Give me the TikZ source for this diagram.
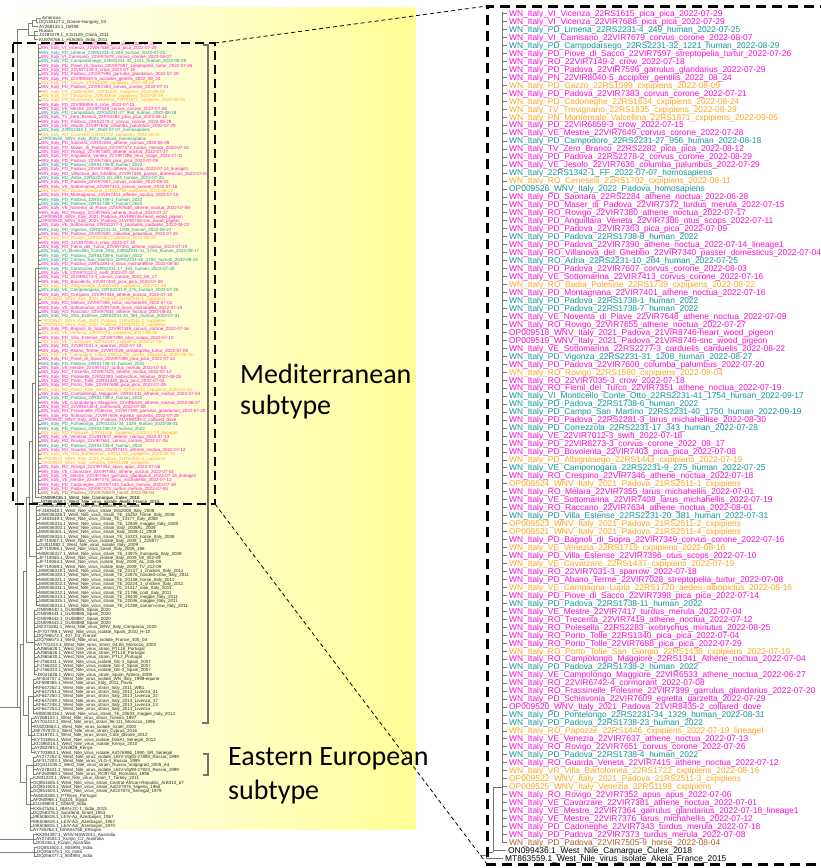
\documentclass[tikz,border=0pt]{standalone}
\usepackage{fontspec}
\setmainfont{Liberation Sans}
\newfontfamily\calfont{Carlito}
\definecolor{cmag}{RGB}{250,10,210}
\definecolor{cteal}{RGB}{20,150,150}
\definecolor{corg}{RGB}{255,165,30}
\definecolor{cbrn}{RGB}{180,90,40}
\definecolor{ybg}{RGB}{255,255,150}
\tikzset{
  rlab/.style={anchor=base west, inner sep=0pt, font=\fontsize{8.4}{8.4}\selectfont},
  llab/.style={anchor=base west, inner sep=0pt, font=\fontsize{4.5}{4.5}\selectfont},
  tr/.style={draw=black!55, line width=0.6pt},
  ltr/.style={draw=black!50, line width=0.45pt},
  bigdash/.style={line width=2.6pt, dash pattern=on 9pt off 5pt},
  thindash/.style={line width=0.8pt, dash pattern=on 4pt off 3pt},
  brack/.style={draw=black!55, line width=1.1pt},
  subt/.style={anchor=base west, inner sep=0pt, font=\calfont\fontsize{28}{28}\selectfont}
}
\newcounter{rc}\newcounter{lc}
\newcommand\medleaf[3][509]{%
  \stepcounter{rc}\stepcounter{lc}%
  \node[rlab,text=#2] (r\arabic{rc}) at (#1,{16.4+7.97*(\arabic{rc}-1)}) {#3};%
  \node[llab,text=#2] (l\arabic{lc}) at (41,{19.6+4.32*(\arabic{lc}-1)}) {#3};}
\newcommand\othleaf[2]{%
  \stepcounter{lc}%
  \node[llab,text=black!85] (l\arabic{lc}) at (#1,{19.6+4.32*(\arabic{lc}-1)}) {#2};}
\newcommand\mM[1]{\medleaf{cmag}{#1}}
\newcommand\mT[1]{\medleaf{cteal}{#1}}
\newcommand\mO[1]{\medleaf{corg}{#1}}
\newcommand\trV[3]{\draw[ltr] (#1,{18+4.32*(#2-1)}) -- (#1,{18+4.32*(#3-1)});}
\newcommand\trH[3]{\draw[ltr] (#1,{18+4.32*(#3-1)}) -- (#2,{18+4.32*(#3-1)});}
\begin{document}
\catcode`\_=12
\begin{tikzpicture}[x=1pt,y=-1pt]
\useasboundingbox (0,0) rectangle (821,868);
\fill[white] (0,0) rectangle (821,868);
\shade[left color=white, right color=ybg] (0,7) rectangle (416,829);

% ---------- left tree: top group ----------
\othleaf{42}{Americas}
\othleaf{39}{DQ118127.1_Goose-Hungary_03}
\othleaf{39}{AY268133.1_ISR98}
\othleaf{39}{Russia}
\othleaf{39}{JX483279.1_XJ11129_China_2011}
\othleaf{39}{KU978766.1_HU6365_India_2011}

% ---------- Mediterranean clade (both panels) ----------
\mM{WN_Italy_VI_Vicenza_22RS1615_pica_pica_2022-07-29}
\mM{WN_Italy_VI_Vicenza_22VIR7688_pica_pica_2022-07-29}
\mT{WN_Italy_PD_Limena_22RS2231-4_249_human_2022-07-25}
\mM{WN_Italy_VI_Camisano_22VIR7679_corvus_corone_2022-08-07}
\mT{WN_Italy_PD_Campodarsego_22RS2231-32_1221_human_2022-08-29}
\mM{WN_Italy_PD_Piove_di_Sacco_22VIR7597_streptopelia_turtur_2022-07-26}
\mM{WN_Italy_RO_22VIR7149-2_crow_2022-07-18}
\mM{WN_Italy_PD_Padova_22VIR7596_garrulus_glandarius_2022-07-29}
\mM{WN_Italy_PN_22VIR8040-5_accipiter_gentilis_2022_08_24}
\mO{WN_Italy_PD_Gazzo_22RS1599_cxpipiens_2022-08-09}
\mM{WN_Italy_PD_Padova_22VIR7383_corvus_corone_2022-07-21}
\mO{WN_Italy_PD_Cadoneghe_22RS1634_cxpipiens_2022-08-24}
\mO{WN_Italy_TV_Trevignano_22RS1835_cxpipiens_2022-08-29}
\mO{WN_Italy_PN_Montereale_Valcellina_22RS1871_cxpipiens_2022-09-05}
\mM{WN_Italy_PD_22VIR6859-3_crow_2022-07-15}
\mM{WN_Italy_VE_Mestre_22VIR7649_corvus_corone_2022-07-28}
\mT{WN_Italy_PD_Campodoro_22RS2231-27_956_human_2022-08-18}
\mM{WN_Italy_TV_Zero_Branco_22RS2282_pica_pica_2022-08-12}
\mM{WN_Italy_PD_Padova_22RS2278-2_corvus_corone_2022-08-29}
\mM{WN_Italy_VE_Jesolo_22VIR7636_columba_palumbus_2022-07-29}
\mT{WN_Italy_22RS1342-1_FF_2022-07-07_homosapiens}
\mO{WN_Italy_RO_Ceneselli_22RS1702_cxpipiens_2022-08-11}
\mT{OP009526_WNV_Italy_2022_Padova_homosapiens}
\mM{WN_Italy_PD_Saonara_22RS2284_athene_noctua_2022-06-28}
\mM{WN_Italy_PD_Maser_di_Padova_22VIR7372_turdus_merula_2022-07-15}
\mM{WN_Italy_RO_Rovigo_22VIR7380_athene_noctua_2022-07-17}
\mM{WN_Italy_PD_Anguillara_Veneta_22VIR7386_otus_scops_2022-07-11}
\mM{WN_Italy_PD_Padova_22VIR7363_pica_pica_2022-07-09}
\mT{WN_Italy_PD_Padova_22RS1738-8_human_2022}
\mM{WN_Italy_PD_Padova_22VIR7390_athene_noctua_2022-07-14_lineage1}
\mM{WN_Italy_RO_Villanova_del_Ghebbo_22VIR7340_passer_domesticus_2022-07-04}
\mT{WN_Italy_RO_Adria_22RS2231-10_284_human_2022-07-25}
\mM{WN_Italy_PD_Padova_22VIR7607_corvus_corone_2022-08-03}
\mM{WN_Italy_VE_Sottomarina_22VIR7413_corvus_corone_2022-07-16}
\mO{WN_Italy_RO_Badia_Polesine_22RS1739_cxpipiens_2022-08-22}
\mM{WN_Italy_PD_Montagnana_22VIR7401_athene_noctua_2022-07-16}
\mT{WN_Italy_PD_Padova_22RS1738-1_human_2022}
\mT{WN_Italy_PD_Padova_22RS1738-7_human_2022}
\mM{WN_Italy_VE_Noventa_di_Piave_22VIR7648_athene_noctua_2022-07-09}
\mM{WN_Italy_RO_Rovigo_22VIR7655_athene_noctua_2022-07-27}
\mM{OP009518_WNV_Italy_2021_Padova_21VIR8746-heart_wood_pigeon}
\mM{OP009519_WNV_Italy_2021_Padova_21VIR8746-snc_wood_pigeon}
\mM{WN_Italy_VE_Sottomarina_22RS2277-3_carduelis_carduelis_2022-08-22}
\mT{WN_Italy_PD_Vigonza_22RS2231-31_1208_human_2022-08-27}
\mM{WN_Italy_PD_Padova_22VIR7600_columba_palumbus_2022-07-20}
\mO{WN_Italy_RO_Rovigo_22RS1580_cxpipiens_2022-08-04}
\mM{WN_Italy_RO_22VIR7035-3_crow_2022-07-18}
\mM{WN_Italy_RO_Fienil_del_Turco_22VIR7351_athene_noctua_2022-07-19}
\mT{WN_Italy_VI_Monticello_Conte_Otto_22RS2231-41_1754_human_2022-09-17}
\mT{WN_Italy_PD_Padova_22RS1738-6_human_2022}
\mT{WN_Italy_PD_Campo_San_Martino_22RS2231-40_1750_human_2022-09-19}
\mM{WN_Italy_PD_Padova_22RS2281-3_larus_michahellise_2022-08-30}
\mT{WN_Italy_PD_Correzzola_22RS2231-17_343_human_2022-07-28}
\mM{WN_Italy_VE_22VIR7012-3_swift_2022-07-18}
\mM{WN_Italy_PD_22VIR8273-3_corvus_corone_2022_08_17}
\mM{WN_Italy_PD_Bovolenta_22VIR7403_pica_pica_2022-07-08}
\mO{WN_Italy_PD_Albignasego_22RS1443_cxpipiens_2022-07-19}
\mT{WN_Italy_VE_Camponogara_22RS2231-9_275_human_2022-07-25}
\mM{WN_Italy_RO_Crespino_22VIR7346_athene_noctua_2022-07-18}
\mO{OP009524_WNV_Italy_2021_Padova_21RS2511-1_cxpipiens}
\mM{WN_Italy_RO_Melara_22VIR7355_larus_michahellis_2022-07-01}
\mM{WN_Italy_VE_Sottomarina_22VIR7408_larus_michahellis_2022-07-19}
\mM{WN_Italy_RO_Raccano_22VIR7634_athene_noctua_2022-08-01}
\mT{WN_Italy_PD_Villa_Estense_22RS2231-20_381_human_2022-07-31}
\mO{OP009523_WNV_Italy_2021_Padova_21RS2511-2_cxpipiens}
\mO{OP009521_WNV_Italy_2021_Padova_21RS2511-4_cxpipiens}
\mM{WN_Italy_PD_Bagnoli_di_Sopra_22VIR7349_corvus_corone_2022-07-16}
\mO{WN_Italy_VE_Venezia_22RS1719_cxpipiens_2022-08-16}
\mM{WN_Italy_PD_Villa_Estense_22VIR7396_otus_scops_2022-07-10}
\mO{WN_Italy_VE_Cavarzare_22RS1437_cxpipiens_2022-07-19}
\mM{WN_Italy_RO_22VIR7031-3_sparrow_2022-07-18}
\mM{WN_Italy_PD_Abano_Terme_22VIR7028_streptopelia_turtur_2022-07-08}
\mO{WN_Italy_VE_Campagna_Lupia_22RS1720_aedes_albopictus_2022-08-16}
\mM{WN_Italy_PD_Piove_di_Sacco_22VIR7398_pica_pica_2022-07-14}
\mT{WN_Italy_PD_Padova_22RS1738-11_human_2022}
\mM{WN_Italy_VE_Mestre_22VIR7417_turdus_merula_2022-07-04}
\mM{WN_Italy_RO_Trecenta_22VIR7419_athene_noctua_2022-07-12}
\mM{WN_Italy_RO_Polesella_22RS2283_ixobrychus_minutus_2022-08-25}
\mM{WN_Italy_RO_Porto_Tolle_22RS1340_pica_pica_2022-07-04}
\mM{WN_Italy_RO_Porto_Tolle_22VIR7688_pica_pica_2022-07-29}
\mO{WN_Italy_RO_Porto_Tolle_San_Giorgio_22RS1438_cxpipiens_2022-07-19}
\mM{WN_Italy_RO_Campolongo_Maggiore_22RS1341_Athene_noctua_2022-07-04}
\mT{WN_Italy_PD_Padova_22RS1738-2_human_2022}
\mM{WN_Italy_VE_Campolongo_Maggiore_22VIR6533_athene_noctua_2022-06-27}
\mM{WN_Italy_RO_22VIR6742-4_cormorant_2022-07-08}
\mM{WN_Italy_RO_Frassinelle_Polesine_22VIR7399_garrulus_glandarius_2022-07-20}
\mM{WN_Italy_PD_Schiavonia_22VIR7609_egretta_garzetta_2022-07-29}
\mM{OP009520_WNV_Italy_2021_Padova_21VIR8435-2_collared_dove}
\mT{WN_Italy_PD_Pontelongo_22RS2231-34_1329_human_2022-08-31}
\mT{WN_Italy_PD_Padova_22RS1738-23_human_2022}
\mO{WN_Italy_RO_Papozze_22RS1446_cxpipiens_2022-07-19_lineageI}
\mM{WN_Italy_VE_Venezia_22VIR7637_athene_noctua_2022-07-13}
\mM{WN_Italy_RO_Rovigo_22VIR7651_corvus_corone_2022-07-26}
\mT{WN_Italy_PD_Padova_22RS1738-4_human_2022}
\mM{WN_Italy_RO_Guarda_Veneta_22VIR7415_athene_noctua_2022-07-12}
\mO{WN_Italy_VR_Villa_Bartolomea_22RS1722_cxpipiens_2022-08-16}
\mO{OP009522_WNV_Italy_2021_Padova_21RS2511-3_cxpipiens}
\mO{OP009525_WNV_Italy_Venezia_22RS1198_cxpipiens}
\mM{WN_Italy_RO_Rovigo_22VIR7352_apus_apus_2022-07-06}
\mM{WN_Italy_VE_Cavarzare_22VIR7381_athene_noctua_2022-07-01}
\mM{WN_Italy_VE_Mestre_22VIR7364_garrulus_glandarius_2022-07-18_lineage1}
\mM{WN_Italy_VE_Mestre_22VIR7376_larus_michahellis_2022-07-12}
\mM{WN_Italy_PD_Cadoneghe_22VIR7343_turdus_merula_2022-07-18}
\mM{WN_Italy_PD_Padova_22VIR7373_turdus_merula_2022-07-08}
\medleaf{cbrn}{WN_Italy_PD_Padova_22VIR7505-9_horse_2022-08-04}
\medleaf[508]{black}{ON099436.1_West_Nile_Camargue_Culex_2018}
\medleaf[505]{black}{MT863559.1_West_Nile_virus_isolate_Akela_France_2015}

% ---------- left tree: lower group ----------
\othleaf{39}{MW036303.1_West_Nile_virus_isolate_Italy_2008}
\othleaf{39}{FJ483548.1_West_Nile_virus_strain_ISS2008_Italy_2008}
\othleaf{39}{MW036326.1_West_Nile_virus_strain_TE_15252_horse_Italy_2008}
\othleaf{39}{FJ483549.1_West_Nile_virus_strain_TE_13177_Italy_2008}
\othleaf{39}{MW036315.1_West_Nile_virus_strain_TE_12639_magpie_Italy_2009}
\othleaf{39}{MW036300.1_West_Nile_virus_strain_Italy_2008AL_2009}
\othleaf{39}{MW036301.1_West_Nile_virus_strain_Italy_2008-11_2009}
\othleaf{39}{MW036324.1_West_Nile_virus_strain_TE_15323_horse_Italy_2008}
\othleaf{39}{JF719067.1_West_Nile_virus_isolate_Italy_2009_1_225877}
\othleaf{39}{GU011992.1_West_Nile_virus_isolate_Italy_2009}
\othleaf{39}{JF719066.1_West_Nile_virus_strain_Italy_2009_196}
\othleaf{39}{MW036317.1_West_Nile_virus_strain_TE_13975_mosquito_Italy_2008}
\othleaf{39}{JF719065.1_West_Nile_virus_isolate_Italy_2009_MI_302-09}
\othleaf{39}{JF719064.1_West_Nile_virus_isolate_Italy_2009_AL_245-09}
\othleaf{39}{JF719068.1_West_Nile_virus_isolate_Italy_2009_TV_212-09}
\othleaf{39}{MW036319.1_West_Nile_virus_strain_TE_23137_1_chicken_Italy_2011}
\othleaf{39}{MW036320.1_West_Nile_virus_strain_TE_22876_hooded-crow_Italy_2011}
\othleaf{39}{MW036321.1_West_Nile_virus_strain_TE_20138_horse_Italy_2011}
\othleaf{39}{MW036322.1_West_Nile_virus_strain_TE_20224_1_chicken_Italy_2011}
\othleaf{39}{MW036311.1_West_Nile_virus_strain_TE_21417_rook_Italy_2011}
\othleaf{39}{MW036312.1_West_Nile_virus_strain_TE_21796_coot_Italy_2011}
\othleaf{39}{MW036313.1_West_Nile_virus_strain_TE_19449_magpie_Italy_2011}
\othleaf{39}{MW036325.1_West_Nile_virus_strain_TE_22046_magpie_Italy_2011}
\othleaf{39}{MW036314.1_West_Nile_virus_strain_TE_21288_carrion-crow_Italy_2011}
\othleaf{37}{ON099440.1_GU08885_Spain_2020}
\othleaf{37}{ON099441.1_GU08886_Spain_2020}
\othleaf{37}{ON099442.1_GU08887_Spain_2020}
\othleaf{37}{ON099443.1_GU08888_Spain_2020}
\othleaf{37}{MZ375281.1_West_Nile_virus_WNV_Italy_Campania_2020}
\othleaf{37}{JF707789.1_West_Nile_virus_isolate_Spain_2010_H-12}
\othleaf{37}{DQ786572.1_407_04_France}
\othleaf{37}{DQ786573.1_West_Nile_virus_isolate_France_405_04}
\othleaf{37}{AY701413.1_West_Nile_virus_strain_04.05_Morocco_2003}
\othleaf{37}{AJ965628.1_West_Nile_virus_strain_PTL16_Portugal}
\othleaf{37}{AJ965626.1_West_Nile_virus_strain_PTL18_Portugal}
\othleaf{37}{AJ965630.1_West_Nile_virus_strain_PTL2_Portugal}
\othleaf{37}{FJ766331.1_West_Nile_virus_isolate_GE-1_Spain_2007}
\othleaf{37}{FJ766332.1_West_Nile_virus_isolate_GE-2_Spain_2007}
\othleaf{37}{FJ766333.1_West_Nile_virus_isolate_GE-3_Spain_2007}
\othleaf{37}{JX041628.1_West_Nile_virus_strain_Spain_Arbera_2008}
\othleaf{36}{AF404757.1_West_Nile_virus_isolate_WN_Italy_1998-equine}
\othleaf{36}{KF588365.1_West_Nile_virus_Italy_2011_Pavia}
\othleaf{36}{KF647252.1_West_Nile_virus_strain_Italy_2011_WB1}
\othleaf{36}{KF647251.1_West_Nile_virus_strain_Italy_2013_Livenza_31}
\othleaf{36}{KF647250.1_West_Nile_virus_strain_Italy_2013_Livenza_22}
\othleaf{36}{KF647249.1_West_Nile_virus_strain_Italy_2013_Livenza_37}
\othleaf{36}{KF647248.1_West_Nile_virus_strain_Italy_2013_Livenza_13}
\othleaf{36}{KF647253.1_West_Nile_virus_strain_Italy_2013_Livenza}
\othleaf{36}{MW036316.1_West_Nile_virus_strain_TE_20633_magpie_Italy_2012}
\othleaf{34}{AY268132.1_West_Nile_virus_strain_Tunisia_1997}
\othleaf{34}{AY701412.1_West_Nile_virus_strain_96-111_Morocco_1996}
\othleaf{34}{KM203863.1_West_Nile_virus_isolate_Israel_2000}
\othleaf{34}{MF797870.1_West_Nile_virus_strain_Cyprus_2016}
\othleaf{34}{LC318701.1_West_Nile_virus_strain_Cote_dIvoire_2012}
\othleaf{34}{KY703854.1_West_Nile_virus_isolate_DakAr_Senegal_2012}
\othleaf{34}{KC496015.1_West_Nile_virus_isolate_Kenya_2010}
\othleaf{34}{AY262283.1_KN3829_Kenya}
\othleaf{34}{KY703853.1_West_Nile_virus_isolate_ArD76986_1990_SR_Senegal}
\othleaf{36}{AY277252.1_West_Nile_virus_isolate_LEIV-Vlg00-27889_Russia_1999}
\othleaf{36}{AF317203.1_West_Nile_virus_VLG-4_Russia_1999}
\othleaf{36}{DQ411035.1_West_Nile_virus_strain_Russia_Volgograd_2005_A4}
\othleaf{36}{AY278441.1_West_Nile_virus_isolate_LEIV-Vlg99-27924_Russia_1999}
\othleaf{36}{AF260969.1_West_Nile_virus_RO97-50_Romania_1996}
\othleaf{33}{KJ831223.1_West_Nile_virus_strain_T_Turkey_2011}
\othleaf{33}{GQ851605.1_West_Nile_virus_strain_Central-African-Republic_ArB310_67}
\othleaf{33}{GQ851603.1_West_Nile_virus_strain_AnD27875_Nigeria_1965}
\othleaf{33}{GQ851604.1_West_Nile_virus_strain_ArD27875_Senegal_1979}
\othleaf{33}{AM404308.1_PTRoxo_Portugal}
\othleaf{33}{AF260968.1_Eg101_Egypt}
\othleaf{33}{EU249803.1_G0609_India}
\othleaf{33}{KX547526.1_IBAN-2C-1_India_2015}
\othleaf{33}{DQ256376.1_Sarafend_Israel_1953}
\othleaf{33}{MK506818.1_LEIV-Az_Azerbaijan_1967}
\othleaf{33}{MK506819.1_LEIV-Azr_Azerbaijan_1967}
\othleaf{33}{MK506815.1_LEIV-Azr_Azerbaijan_1970}
\othleaf{33}{AY765264.1_EthAn4766_Ethiopia}
\othleaf{36}{KX394397.1_WNV-NSW2011_Australia}
\othleaf{36}{AY274504.1_Kunjin_C2_Australia}
\othleaf{36}{D00246.1_Kunjin_Australia}
\othleaf{37}{GQ851602.1_804994_India}
\othleaf{37}{DQ256375.1_IG_India}
\othleaf{37}{DQ256377.1_804994_India}

% ---------- left tree branches ----------
\trV{36}{1}{2}\trH{36}{41}{1}\trH{36}{38}{2}
\trV{32}{1.5}{3}\trH{32}{36}{1.5}\trH{32}{38}{3}
\trV{34}{4}{6}\trH{34}{38}{4}\trH{34}{38}{5}\trH{34}{38}{6}
\trV{28}{2.25}{5}\trH{28}{32}{2.25}\trH{28}{34}{5}
\trV{38}{7}{111}
\foreach \i in {7,...,111}{\trH{38}{40.5}{\i}}
\trV{35}{59}{112}\trH{35}{38}{59}\trH{35}{40.5}{112}
\trV{32}{85.5}{113}\trH{32}{35}{85.5}\trH{32}{40.5}{113}
\trV{36}{114}{137}
\foreach \i in {114,...,137}{\trH{36}{38.5}{\i}}
\trV{29}{99}{125.5}\trH{29}{32}{99}\trH{29}{36}{125.5}
\trV{34}{138}{153}
\foreach \i in {138,...,153}{\trH{34}{36.5}{\i}}
\trV{26}{112}{145.5}\trH{26}{29}{112}\trH{26}{34}{145.5}
\trV{33}{154}{162}
\foreach \i in {154,...,162}{\trH{33}{35.5}{\i}}
\trV{31}{163}{171}
\foreach \i in {163,...,171}{\trH{31}{33.5}{\i}}
\trV{28}{158}{167}\trH{28}{33}{158}\trH{28}{31}{167}
\trV{23}{129}{162.5}\trH{23}{26}{129}\trH{23}{28}{162.5}
\trV{33}{172}{176}
\foreach \i in {172,...,176}{\trH{33}{35.5}{\i}}
\trV{30}{177}{189}
\foreach \i in {177,...,189}{\trH{30}{32.5}{\i}}
\trV{26}{174}{183}\trH{26}{33}{174}\trH{26}{30}{183}
\trV{20}{146}{178}\trH{20}{23}{146}\trH{20}{26}{178}
\trV{17}{3.6}{160.5}\trH{17}{28}{3.6}\trH{0}{20}{160.5}
\trV{33}{190}{192}
\foreach \i in {190,...,192}{\trH{33}{35.5}{\i}}
\trH{0}{33}{191}
\trV{34}{193}{195}
\foreach \i in {193,...,195}{\trH{34}{36.5}{\i}}
\trH{0}{34}{194}

% ---------- right tree branches ----------
\draw[tr] (502,12) -- (502,842.4);
\foreach \i in {1,...,105}{\draw[tr] (502,{13.5+7.97*(\i-1)}) -- (507,{13.5+7.97*(\i-1)});}
\draw[tr] (493,787) -- (502,787);
\draw[tr] (493,787) -- (493,852);
\draw[tr] (493,850.4) -- (506,850.4);
\draw[tr] (486,852) -- (493,852);
\draw[tr] (486,852) -- (486,858.3);
\draw[tr] (486,858.3) -- (503,858.3);
\draw[tr] (480,855) -- (486,855);

% ---------- brackets and subtype labels ----------
\coordinate (mbT) at (208,45);
\coordinate (mbB) at (208,723);
\draw[brack] (203,45) -- (mbT) -- (mbB) -- (202,723);
\coordinate (ebT) at (208,754);
\coordinate (ebB) at (208,775);
\draw[brack] (203,754) -- (ebT) -- (ebB) -- (203,775);
\node[subt] (med1) at (240,383) {Mediterranean};
\node[subt] (med2) at (240,414) {subtype};
\node[subt] (ee1) at (228,765) {Eastern European};
\node[subt] (ee2) at (228,799) {subtype};

% ---------- zoom boxes ----------
\coordinate (lbTL) at (13,43);
\coordinate (lbTR) at (215,43);
\coordinate (lbBR) at (215,504);
\coordinate (lbBL) at (13,504);
\draw[bigdash] (lbTL) -- (lbTR) -- (lbBR) -- (lbBL) -- cycle;
\coordinate (rbTL) at (487,6);
\coordinate (rbBL) at (487,864);
\coordinate (rbTR) at (830,6);
\coordinate (rbBR) at (830,864);
\draw[bigdash, line width=3pt, dash pattern=on 10pt off 6pt] (rbTR) -- (rbTL) -- (rbBL) -- (rbBR);
\draw[thindash] (lbTR) -- (rbTL);
\draw[thindash] (lbBR) -- (rbBL);
\end{tikzpicture}
\end{document}
